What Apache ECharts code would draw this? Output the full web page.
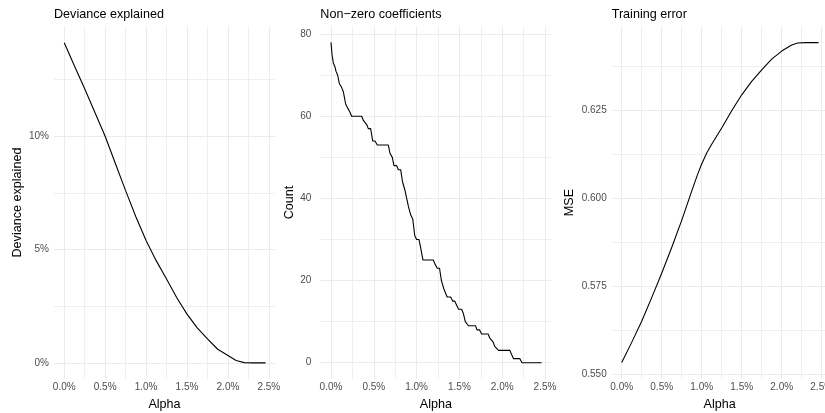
<!DOCTYPE html>
<html>
<head>
<meta charset="utf-8">
<script src="https://cdn.jsdelivr.net/npm/echarts@6/dist/echarts.min.js"></script>
<style>
  html, body { margin: 0; padding: 0; background: #ffffff; }
  #chart { width: 825px; height: 413px; }
</style>
</head>
<body>
<div id="chart"></div>
<script>
// ---- Deviance explained along the alpha path (alpha in %, deviance in %) ----
const devAlpha = [0, 0.125, 0.25, 0.375, 0.5, 0.625, 0.75, 0.875, 1.0, 1.125, 1.25, 1.375,
                  1.5, 1.625, 1.75, 1.875, 2.0, 2.1, 2.2, 2.3, 2.4, 2.46];
const devExplained = [14.13, 13.1, 12.1, 11.05, 10.0, 8.8, 7.6, 6.45, 5.4, 4.5, 3.7, 2.87,
                      2.15, 1.54, 1.06, 0.6, 0.32, 0.1, 0.01, 0, 0, 0];

// ---- Number of non-zero coefficients ----
const countAlpha = [0, 0.012, 0.027, 0.047, 0.058, 0.078, 0.097, 0.125, 0.144, 0.171, 0.195, 0.222,
                    0.241, 0.358, 0.378, 0.401, 0.417, 0.436, 0.463, 0.487, 0.514, 0.541, 0.670,
                    0.689, 0.716, 0.736, 0.767, 0.787, 0.814, 0.836, 0.864, 0.884, 0.905, 0.931,
                    0.955, 0.978, 1.0, 1.028, 1.047, 1.075, 1.094, 1.195, 1.215, 1.242, 1.268,
                    1.29, 1.318, 1.33, 1.357, 1.398, 1.421, 1.445, 1.468, 1.49, 1.526, 1.546,
                    1.569, 1.606, 1.688, 1.706, 1.735, 1.76, 1.836, 1.855, 1.875, 1.895, 1.912,
                    1.935, 1.958, 2.09, 2.11, 2.132, 2.205, 2.232, 2.46];
const nonZeroCount = [78, 75, 73, 72, 71, 70, 68, 67, 66, 63, 62, 61,
                      60, 60, 59, 59, 58, 57, 57, 54, 54, 53, 53,
                      51, 50, 48, 48, 47, 47, 44, 42, 40, 38, 36,
                      35, 31, 30, 30, 28, 25, 25, 25, 24, 23, 23,
                      20, 18, 18, 16, 16, 15, 15, 14, 13, 13, 12,
                      10, 9, 9, 8, 8, 7, 7, 6, 6, 5, 4,
                      4, 3, 3, 2, 1, 1, 0, 0];

// ---- Training mean squared error ----
const mseAlpha = [0, 0.125, 0.25, 0.375, 0.5, 0.625, 0.75, 0.875, 0.95, 1.0, 1.0625, 1.125, 1.25,
                  1.375, 1.5, 1.625, 1.75, 1.875, 2.0, 2.125, 2.2, 2.3, 2.46];
const trainingMse = [0.5534, 0.5591, 0.5651, 0.5718, 0.5787, 0.5860, 0.5937, 0.6020, 0.6068,
                     0.6097, 0.6128, 0.6153, 0.6199, 0.6248, 0.6293, 0.6331, 0.6364, 0.6394,
                     0.6417, 0.6434, 0.6440, 0.6441, 0.6441];

// ---- Tick labels ----
const alphaTicks = [0, 0.5, 1.0, 1.5, 2.0, 2.5];
const devTicks = [0, 5, 10];
const countTicks = [0, 20, 40, 60, 80];
const mseTicks = [0.550, 0.575, 0.600, 0.625];

const FONT = "'Liberation Sans', Arial, Helvetica, sans-serif";
const GRID_MAJOR = '#EBEBEB';
const GRID_MINOR = '#EFEFEF';
const CLEAR = 'rgba(0,0,0,0)';

const isMultiple = (v, m) => Math.abs(v / m - Math.round(v / m)) < 1e-5;

// Builds a value axis whose fine tick step lets grid lines sit only on the
// major/minor breaks while the axis range keeps the 5% padding on each side.
function paddedAxis(o) {
  const decimals = Math.max(0, -Math.floor(Math.log10(o.step) + 1e-9));
  const ticks = [];
  const n = Math.floor((o.max - o.min) / o.step + 1e-6);
  for (let i = 0; i <= n; i++) ticks.push(+(o.min + i * o.step).toFixed(decimals + 2));
  if (o.max > ticks[ticks.length - 1] + 1e-9) ticks.push(o.max);
  const colors = ticks.map(v => {
    if (isMultiple(v, o.major)) return GRID_MAJOR;
    if (isMultiple(v, o.minor)) return GRID_MINOR;
    return CLEAR;
  });
  return {
    type: 'value',
    gridIndex: o.grid,
    min: o.min,
    max: o.max,
    interval: o.step,
    axisLine: { show: false },
    axisTick: { show: false },
    splitLine: { show: true, lineStyle: { color: colors, width: 1 } },
    axisLabel: {
      show: true,
      margin: o.margin,
      color: '#4D4D4D',
      fontSize: 10,
      fontFamily: FONT,
      showMinLabel: true,
      showMaxLabel: true,
      formatter: v => {
        const hit = o.labels.find(t => Math.abs(t - v) < o.step / 10);
        return hit === undefined ? '' : o.fmt(hit);
      }
    },
    name: o.name,
    nameLocation: 'middle',
    nameGap: o.nameGap,
    nameTextStyle: { color: '#000000', fontSize: 12.6, fontFamily: FONT }
  };
}

const panels = [
  { left: 54,    width: 221,   title: 'Deviance explained' },
  { left: 320.3, width: 231.1, title: 'Non\u2212zero coefficients' },
  { left: 611.7, width: 216,   title: 'Training error' }
];
const TOP = 26.4, HEIGHT = 352.3;

const pct = v => v.toFixed(1) + '%';

const xAxes = panels.map((p, i) => paddedAxis({
  grid: i, min: -0.125, max: 2.575, step: 0.125, major: 0.5, minor: 0.25,
  labels: alphaTicks, fmt: pct, margin: 4, name: 'Alpha', nameGap: 16
}));

const yAxes = [
  paddedAxis({ grid: 0, min: -0.7, max: 14.85, step: 0.1, major: 5, minor: 2.5,
               labels: devTicks, fmt: v => v.toFixed(0) + '%', margin: 5,
               name: 'Deviance explained', nameGap: 30 }),
  paddedAxis({ grid: 1, min: -3.9, max: 81.9, step: 0.1, major: 20, minor: 10,
               labels: countTicks, fmt: v => v.toFixed(0), margin: 9,
               name: 'Count', nameGap: 17 }),
  paddedAxis({ grid: 2, min: 0.5488, max: 0.6487, step: 0.0001, major: 0.025, minor: 0.0125,
               labels: mseTicks, fmt: v => v.toFixed(3), margin: 5,
               name: 'MSE', nameGap: 36 })
];

const zip = (xs, ys) => xs.map((x, i) => [x, ys[i]]);
const lineSeries = (i, data) => ({
  type: 'line',
  xAxisIndex: i,
  yAxisIndex: i,
  data: data,
  showSymbol: false,
  smooth: false,
  lineStyle: { color: '#000000', width: 1.1, join: 'round' },
  silent: true,
  animation: false
});

const chart = echarts.init(document.getElementById('chart'), null, { renderer: 'canvas' });
chart.setOption({
  backgroundColor: '#ffffff',
  animation: false,
  textStyle: { fontFamily: FONT },
  title: panels.map(p => ({
    text: p.title,
    left: p.left,
    top: 8,
    padding: 0,
    textStyle: { color: '#000000', fontSize: 12.6, fontWeight: 'normal', fontFamily: FONT }
  })),
  grid: panels.map(p => ({
    left: p.left, top: TOP, width: p.width, height: HEIGHT,
    containLabel: false, outerBoundsMode: 'none'
  })),
  xAxis: xAxes,
  yAxis: yAxes,
  series: [
    lineSeries(0, zip(devAlpha, devExplained)),
    lineSeries(1, zip(countAlpha, nonZeroCount)),
    lineSeries(2, zip(mseAlpha, trainingMse))
  ]
});
</script>
</body>
</html>
